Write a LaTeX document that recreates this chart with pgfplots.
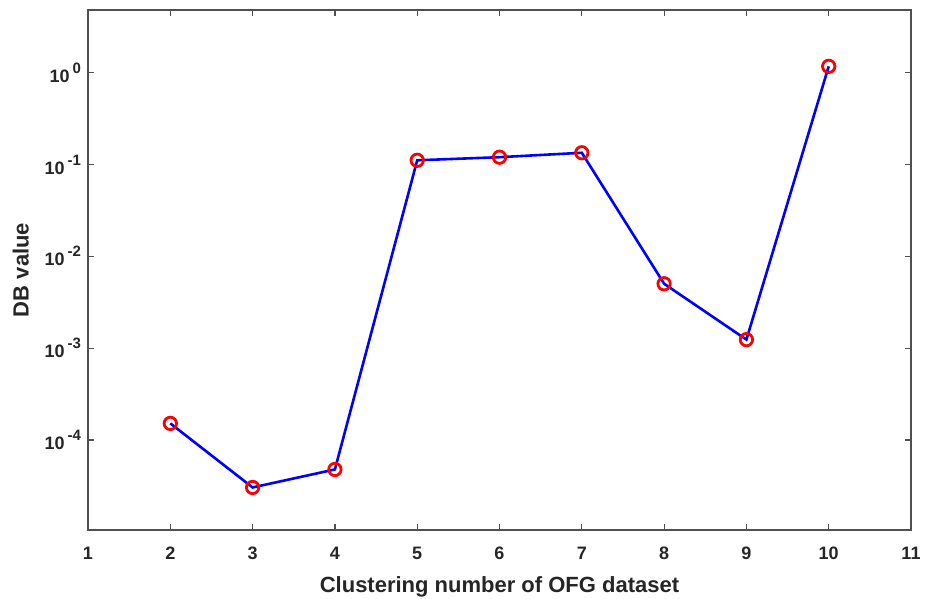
\documentclass[border=0pt]{standalone}
\usepackage{fontspec}
\setmainfont{Liberation Sans}
\usepackage{pgfplots}
\pgfplotsset{compat=1.18}

\definecolor{axgray}{RGB}{80,80,80}
\definecolor{txt}{RGB}{38,38,38}
% MATLAB-like exponent: big and well raised
\newcommand\ex[1]{\kern1.5pt\raisebox{4.5pt}{\fontsize{7.5}{8}\selectfont\bfseries #1}}

\begin{document}
\begin{tikzpicture}
\begin{axis}[
    scale only axis,
    width=411.5pt, height=260pt,
    ymode=log,
    xmin=1, xmax=11,
    ymin=1.05e-5, ymax=4.8,
    xtick={1,...,11},
    ytick={1e-4,1e-3,1e-2,1e-1,1},
    yticklabels={10\ex{-4},10\ex{-3},10\ex{-2},10\ex{-1},10\ex{0}},
    yminorticks=false,
    tick align=inside,
    major tick length=3pt,
    axis line style={axgray, line width=0.6pt},
    every tick/.style={axgray, line width=0.6pt},
    /pgf/number format/assume math mode=true,
    ticklabel style={font=\fontsize{9}{10}\selectfont\bfseries, text=txt},
    xticklabel style={yshift=-5pt},
    xlabel={Clustering number of OFG dataset},
    ylabel={DB value},
    label style={font=\fontsize{11}{12}\selectfont\bfseries, text=txt},
    xlabel style={yshift=-1.5pt},
    ylabel style={yshift=1pt},
    clip=false,
]
\addplot[blue, line width=1.3pt, mark=o,
    mark options={red, line width=1.4pt, scale=1.55}]
coordinates {
    (2,1.52e-4)
    (3,3.05e-5)
    (4,4.79e-5)
    (5,0.111)
    (6,0.120)
    (7,0.134)
    (8,5.03e-3)
    (9,1.24e-3)
    (10,1.17)
};
\end{axis}
\pgfresetboundingbox
\path ([shift={(-44pt,-34.5pt)}]current axis.south west) rectangle ([shift={(12.5pt,5pt)}]current axis.north east);
\end{tikzpicture}
\end{document}
